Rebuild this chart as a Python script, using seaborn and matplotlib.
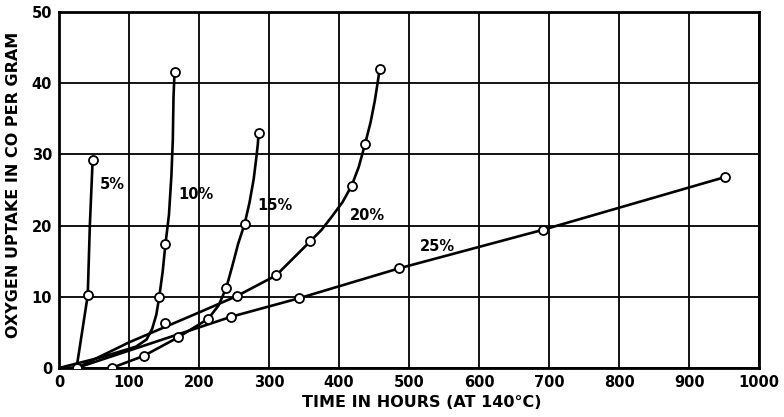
import matplotlib
matplotlib.use("Agg")
import matplotlib.pyplot as plt
import seaborn as sns
import pandas as pd

sns.set_style("white")
plt.rcParams['font.family'] = ['DejaVu Sans']

# Curve paths (hours, cc per gram)
p5_x = [0, 25, 41, 44, 48]
p5_y = [0, 0, 10.2, 20, 29.2]
p10_x = [0, 60, 110, 125, 133, 139, 143, 148, 152, 157, 160.5, 162.5, 163.5, 165]
p10_y = [0, 1.5, 3.0, 4.0, 5.5, 7.5, 9.9, 13.5, 17.4, 21.5, 27.0, 32.0, 38.0, 41.6]
p15_x = [75, 121, 170, 213, 228, 239, 248, 256, 265, 272, 278, 282, 284, 285]
p15_y = [0, 1.7, 4.3, 6.9, 8.8, 11.3, 14.5, 17.5, 20.2, 23.2, 26.5, 29.7, 31.5, 33.0]
p20_x = [0, 25, 100, 200, 254, 310, 359, 375, 390, 405, 418, 428, 437, 445,
         451, 455, 458]
p20_y = [0, 0, 3.6, 7.8, 10.1, 13.0, 17.8, 19.4, 21.3, 23.3, 25.6, 28.2, 31.4,
         34.5, 37.5, 40.0, 42.0]
p25_x = [0, 25, 246, 343, 486, 691, 951]
p25_y = [0, 0, 7.2, 9.8, 14, 19.4, 26.8]

# Measured points (open circles)
m_x = [25, 41, 48, 143, 152, 165, 151, 75, 121, 170, 213, 239, 265, 285,
       254, 310, 359, 418, 437, 458, 246, 343, 486, 691, 951]
m_y = [0, 10.2, 29.2, 9.9, 17.4, 41.6, 6.3, 0, 1.7, 4.3, 6.9, 11.3, 20.2, 33.0,
       10.1, 13.0, 17.8, 25.6, 31.4, 42.0, 7.2, 9.8, 14, 19.4, 26.8]

labels = ["5%", "10%", "15%", "20%", "25%"]
label_x = [76, 195, 308, 441, 541]
label_y = [25.7, 24.3, 22.8, 21.4, 17.0]

x_ticks = [0, 100, 200, 300, 400, 500, 600, 700, 800, 900, 1000]
y_ticks = [0, 10, 20, 30, 40, 50]

fig = plt.figure(figsize=(7.84, 4.17), dpi=100)
ax = fig.add_axes([0.0753, 0.1175, 0.893, 0.854])

frames = []
for name, xs, ys in zip(labels, [p5_x, p10_x, p15_x, p20_x, p25_x],
                        [p5_y, p10_y, p15_y, p20_y, p25_y]):
    frames.append(pd.DataFrame({"t": xs, "o": ys, "s": name}))
df = pd.concat(frames, ignore_index=True)

for name in labels:
    sub = df[df.s == name]
    sns.lineplot(data=sub, x="t", y="o", sort=False, estimator=None,
                 color="black", lw=1.9, ax=ax, legend=False)

sns.scatterplot(x=m_x, y=m_y, s=42, facecolor="white", edgecolor="black",
                linewidth=1.3, zorder=5, ax=ax, legend=False)

for lab, lx, ly in zip(labels, label_x, label_y):
    ax.text(lx, ly, lab, fontsize=10.5, ha="center", va="center", color="black",
            fontweight="semibold")

ax.set_xlim(0, 1000)
ax.set_ylim(0, 50)
ax.set_xticks(x_ticks)
ax.set_yticks(y_ticks)
ax.grid(True, color="black", lw=1.3)
ax.set_axisbelow(True)
for sp in ax.spines.values():
    sp.set_color("black")
    sp.set_linewidth(2)
ax.tick_params(axis="both", length=0, labelsize=10.5, colors="black", pad=5)
for t in ax.get_xticklabels() + ax.get_yticklabels():
    t.set_fontweight("bold")
ax.set_xlabel("TIME IN HOURS (AT 140°C)", fontsize=11.5, fontweight="bold",
              color="black")
ax.xaxis.set_label_coords(0.518, -0.076)
ax.set_ylabel("OXYGEN UPTAKE IN CO PER GRAM", fontsize=11.5, fontweight="bold",
              color="black")
ax.yaxis.set_label_coords(-0.055, 0.515)

fig.savefig("out.png", dpi=100)
